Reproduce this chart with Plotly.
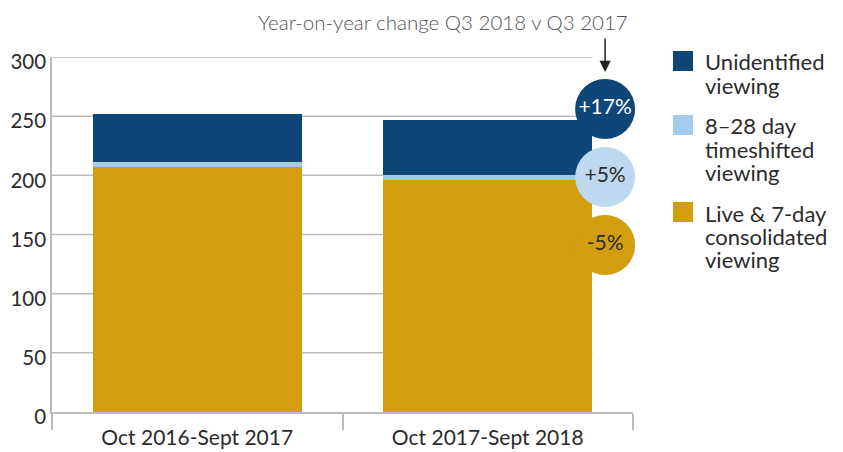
import plotly.graph_objects as go

# ---------------- data ----------------
categories = ["Oct 2016-Sept 2017", "Oct 2017-Sept 2018"]
live_7day = [207, 196]
timeshift_8_28 = [4, 4]
unidentified = [41, 47]
series_names = ["Unidentified<br>viewing",
                "8–28 day<br>timeshifted<br>viewing",
                "Live & 7-day<br>consolidated<br>viewing"]
yoy_change = ["+17%", "+5%", "-5%"]
y_ticks = [0, 50, 100, 150, 200, 250, 300]
change_title = "Year-on-year change Q3 2018 v Q3 2017"

# ---------------- style ----------------
FONT = "Lato"
DARK = "#0E4678"
LIGHT = "#A3CBEC"
LIGHT_BUBBLE = "#BDD8EF"
GOLD = "#D39E0E"
GRID = "#BBBBBB"
TEXT = "#2B2B2B"
OFF = 8                                   # page body margin of the html page
W, H = 843 - OFF, 452 - OFF
L, R, T, B = 52, 633, 57, 412            # plot area in reference pixels
BAR_WIDTH = 0.72
BUBBLE_X = 1.404
BUBBLE_PIX_Y = [109, 177, 245]
BUBBLE_SIZE = 60


def px(x):
    return (x - L) / (R - L)


def py(y):
    return (B - y) / (B - T)


def data_y(y):
    return (B - y) / (B - T) * 300


fig = go.Figure()
series = [(live_7day, GOLD, series_names[2]),
          (timeshift_8_28, LIGHT, series_names[1]),
          (unidentified, DARK, series_names[0])]
for vals, col, name in series:
    fig.add_trace(go.Bar(x=categories, y=vals, marker=dict(color=col, line=dict(width=0)),
                         name=name, showlegend=False, width=BAR_WIDTH, hoverinfo="skip"))

# change bubbles
fig.add_trace(go.Scatter(
    x=[BUBBLE_X] * 3, y=[data_y(v) for v in BUBBLE_PIX_Y], xaxis="x2",
    mode="markers+text", text=yoy_change, textposition="middle center",
    marker=dict(size=BUBBLE_SIZE, color=[DARK, LIGHT_BUBBLE, GOLD], line=dict(width=0)),
    textfont=dict(family=FONT, size=21, color=["white", TEXT, TEXT]),
    cliponaxis=False, showlegend=False, hoverinfo="skip"))

shapes = []
for v in y_ticks[1:]:
    shapes.append(dict(type="line", xref="x2", yref="y", x0=-0.5, x1=1 + BAR_WIDTH / 2,
                       y0=v, y1=v, line=dict(color=GRID, width=1.5), layer="below"))

annotations = []
# arrow
annotations.append(dict(xref="x2", yref="y", x=BUBBLE_X, y=data_y(72), ax=0, ay=-35,
                        showarrow=True, arrowhead=2, arrowsize=1.5, arrowwidth=1.5,
                        arrowcolor="#222", text=""))
annotations.append(dict(xref="paper", yref="paper", x=px(630), y=py(22), xanchor="right",
                        yanchor="middle", showarrow=False, text=change_title,
                        font=dict(family=FONT, size=20.5, color="#555", weight=300)))

# legend (custom)
top = 51
for name, col in zip(series_names, [DARK, LIGHT, GOLD]):
    lines = name.split("<br>")
    shapes.append(dict(type="rect", xref="paper", yref="paper", x0=px(673), x1=px(693),
                       y0=py(top), y1=py(top + 20), fillcolor=col, line=dict(width=0)))
    for i, ln in enumerate(lines):
        annotations.append(dict(xref="paper", yref="paper", x=px(703), y=py(top + 11 + 23 * i),
                                xanchor="left", yanchor="middle", showarrow=False, text=ln,
                                font=dict(family=FONT, size=22, color=TEXT)))
    top += 23 * len(lines) + 18

fig.update_layout(
    width=W, height=H, autosize=False,
    margin=dict(l=L - OFF, r=843 - R, t=T - OFF, b=452 - B, pad=0),
    plot_bgcolor="white", paper_bgcolor="white",
    barmode="stack", bargap=1 - BAR_WIDTH,
    font=dict(family=FONT, size=20, color=TEXT),
    xaxis=dict(type="category", range=[-0.5, 1.5], showline=True, linecolor=GRID, linewidth=1.5,
               ticks="outside", tickson="boundaries", ticklen=16, tickcolor=GRID, tickwidth=1.5,
               showgrid=False, tickfont=dict(family=FONT, size=21, color=TEXT), fixedrange=True,
               automargin=False, ticklabelstandoff=6),
    xaxis2=dict(overlaying="x", range=[-0.5, 1.5], visible=False, fixedrange=True),
    yaxis=dict(range=[0, 300], tickvals=y_ticks, showgrid=False, showline=True, linecolor=GRID,
               linewidth=1.5, zeroline=False, ticks="", ticklabelstandoff=0, ticklabelshift=5,
               tickfont=dict(family=FONT, size=20.5, color=TEXT), fixedrange=True,
               automargin=False),
    shapes=shapes, annotations=annotations,
)

fig.write_html("out.html")
